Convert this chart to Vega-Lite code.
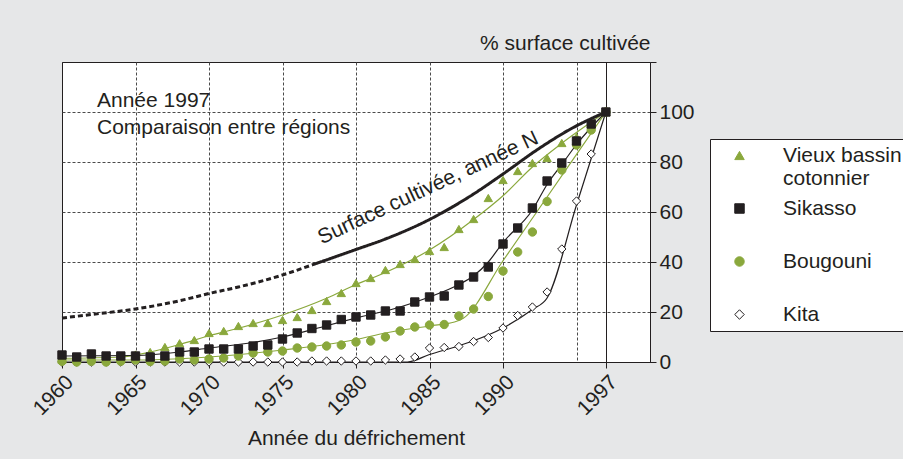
{
  "$schema": "https://vega.github.io/schema/vega-lite/v6.json",
  "width": 588,
  "height": 300,
  "autosize": {"type": "none"},
  "padding": {"left": 62, "top": 62, "right": 253, "bottom": 97},
  "background": "#e6e7e8",
  "config": {
    "font": "Liberation Sans",
    "view": {"fill": "white", "stroke": "#231f20", "strokeWidth": 1}
  },
  "title": {
    "text": ["Année 1997", "Comparaison entre régions"],
    "orient": "top",
    "anchor": "start",
    "frame": "group",
    "dx": 35,
    "offset": -106,
    "fontSize": 21,
    "fontWeight": "normal",
    "color": "#231f20",
    "lineHeight": 27
  },
  "datasets": {
    "points": [
      {"serie": "Kita", "annee": 1960, "pct": 0}, {"serie": "Kita", "annee": 1961, "pct": 0}, {"serie": "Kita", "annee": 1962, "pct": 0}, {"serie": "Kita", "annee": 1963, "pct": 0}, {"serie": "Kita", "annee": 1964, "pct": 0}, {"serie": "Kita", "annee": 1965, "pct": 0}, {"serie": "Kita", "annee": 1966, "pct": 0}, {"serie": "Kita", "annee": 1967, "pct": 0}, {"serie": "Kita", "annee": 1968, "pct": 0}, {"serie": "Kita", "annee": 1969, "pct": 0}, {"serie": "Kita", "annee": 1970, "pct": 0}, {"serie": "Kita", "annee": 1971, "pct": 0}, {"serie": "Kita", "annee": 1972, "pct": 0}, {"serie": "Kita", "annee": 1973, "pct": 0}, {"serie": "Kita", "annee": 1974, "pct": 0}, {"serie": "Kita", "annee": 1975, "pct": 0}, {"serie": "Kita", "annee": 1976, "pct": 0}, {"serie": "Kita", "annee": 1977, "pct": 0.4}, {"serie": "Kita", "annee": 1978, "pct": 0.4}, {"serie": "Kita", "annee": 1979, "pct": 0.4}, {"serie": "Kita", "annee": 1980, "pct": 0.4}, {"serie": "Kita", "annee": 1981, "pct": 0.4}, {"serie": "Kita", "annee": 1982, "pct": 0.8}, {"serie": "Kita", "annee": 1983, "pct": 1.2}, {"serie": "Kita", "annee": 1984, "pct": 2}, {"serie": "Kita", "annee": 1985, "pct": 5.6}, {"serie": "Kita", "annee": 1986, "pct": 5.8}, {"serie": "Kita", "annee": 1987, "pct": 6.2}, {"serie": "Kita", "annee": 1988, "pct": 8.2}, {"serie": "Kita", "annee": 1989, "pct": 9.8}, {"serie": "Kita", "annee": 1990, "pct": 13.6}, {"serie": "Kita", "annee": 1991, "pct": 18.6}, {"serie": "Kita", "annee": 1992, "pct": 22}, {"serie": "Kita", "annee": 1993, "pct": 28}, {"serie": "Kita", "annee": 1994, "pct": 45.2}, {"serie": "Kita", "annee": 1995, "pct": 64.4}, {"serie": "Kita", "annee": 1996, "pct": 83.2}, {"serie": "Kita", "annee": 1997, "pct": 100},
      {"serie": "Bougouni", "annee": 1960, "pct": 0.3}, {"serie": "Bougouni", "annee": 1961, "pct": 0}, {"serie": "Bougouni", "annee": 1962, "pct": 0.3}, {"serie": "Bougouni", "annee": 1963, "pct": 0}, {"serie": "Bougouni", "annee": 1964, "pct": 0.3}, {"serie": "Bougouni", "annee": 1965, "pct": 0.8}, {"serie": "Bougouni", "annee": 1966, "pct": 0.2}, {"serie": "Bougouni", "annee": 1967, "pct": 0.4}, {"serie": "Bougouni", "annee": 1968, "pct": 1.2}, {"serie": "Bougouni", "annee": 1969, "pct": 0.8}, {"serie": "Bougouni", "annee": 1970, "pct": 1.2}, {"serie": "Bougouni", "annee": 1971, "pct": 1.6}, {"serie": "Bougouni", "annee": 1972, "pct": 2.4}, {"serie": "Bougouni", "annee": 1973, "pct": 3.6}, {"serie": "Bougouni", "annee": 1974, "pct": 4}, {"serie": "Bougouni", "annee": 1975, "pct": 4.4}, {"serie": "Bougouni", "annee": 1976, "pct": 5.6}, {"serie": "Bougouni", "annee": 1977, "pct": 6}, {"serie": "Bougouni", "annee": 1978, "pct": 6.4}, {"serie": "Bougouni", "annee": 1979, "pct": 6.8}, {"serie": "Bougouni", "annee": 1980, "pct": 8}, {"serie": "Bougouni", "annee": 1981, "pct": 8.4}, {"serie": "Bougouni", "annee": 1982, "pct": 10}, {"serie": "Bougouni", "annee": 1983, "pct": 12.4}, {"serie": "Bougouni", "annee": 1984, "pct": 14}, {"serie": "Bougouni", "annee": 1985, "pct": 14.8}, {"serie": "Bougouni", "annee": 1986, "pct": 15}, {"serie": "Bougouni", "annee": 1987, "pct": 18.4}, {"serie": "Bougouni", "annee": 1988, "pct": 21.2}, {"serie": "Bougouni", "annee": 1989, "pct": 26.2}, {"serie": "Bougouni", "annee": 1990, "pct": 36.4}, {"serie": "Bougouni", "annee": 1991, "pct": 44}, {"serie": "Bougouni", "annee": 1992, "pct": 52}, {"serie": "Bougouni", "annee": 1993, "pct": 64.2}, {"serie": "Bougouni", "annee": 1994, "pct": 76.8}, {"serie": "Bougouni", "annee": 1995, "pct": 86.8}, {"serie": "Bougouni", "annee": 1996, "pct": 92.8}, {"serie": "Bougouni", "annee": 1997, "pct": 100},
      {"serie": "Vieux bassin cotonnier", "annee": 1960, "pct": 1}, {"serie": "Vieux bassin cotonnier", "annee": 1961, "pct": 1.5}, {"serie": "Vieux bassin cotonnier", "annee": 1962, "pct": 2}, {"serie": "Vieux bassin cotonnier", "annee": 1963, "pct": 1.5}, {"serie": "Vieux bassin cotonnier", "annee": 1964, "pct": 1.5}, {"serie": "Vieux bassin cotonnier", "annee": 1965, "pct": 3}, {"serie": "Vieux bassin cotonnier", "annee": 1966, "pct": 4}, {"serie": "Vieux bassin cotonnier", "annee": 1967, "pct": 6}, {"serie": "Vieux bassin cotonnier", "annee": 1968, "pct": 7.5}, {"serie": "Vieux bassin cotonnier", "annee": 1969, "pct": 8.8}, {"serie": "Vieux bassin cotonnier", "annee": 1970, "pct": 11.6}, {"serie": "Vieux bassin cotonnier", "annee": 1971, "pct": 12.4}, {"serie": "Vieux bassin cotonnier", "annee": 1972, "pct": 14.4}, {"serie": "Vieux bassin cotonnier", "annee": 1973, "pct": 15.6}, {"serie": "Vieux bassin cotonnier", "annee": 1974, "pct": 15.6}, {"serie": "Vieux bassin cotonnier", "annee": 1975, "pct": 16.8}, {"serie": "Vieux bassin cotonnier", "annee": 1976, "pct": 18}, {"serie": "Vieux bassin cotonnier", "annee": 1977, "pct": 20.8}, {"serie": "Vieux bassin cotonnier", "annee": 1978, "pct": 24.4}, {"serie": "Vieux bassin cotonnier", "annee": 1979, "pct": 27.6}, {"serie": "Vieux bassin cotonnier", "annee": 1980, "pct": 31.6}, {"serie": "Vieux bassin cotonnier", "annee": 1981, "pct": 33.6}, {"serie": "Vieux bassin cotonnier", "annee": 1982, "pct": 36.8}, {"serie": "Vieux bassin cotonnier", "annee": 1983, "pct": 39.2}, {"serie": "Vieux bassin cotonnier", "annee": 1984, "pct": 41.2}, {"serie": "Vieux bassin cotonnier", "annee": 1985, "pct": 44.4}, {"serie": "Vieux bassin cotonnier", "annee": 1986, "pct": 46}, {"serie": "Vieux bassin cotonnier", "annee": 1987, "pct": 53.2}, {"serie": "Vieux bassin cotonnier", "annee": 1988, "pct": 57.2}, {"serie": "Vieux bassin cotonnier", "annee": 1989, "pct": 65.6}, {"serie": "Vieux bassin cotonnier", "annee": 1990, "pct": 72.8}, {"serie": "Vieux bassin cotonnier", "annee": 1991, "pct": 76.4}, {"serie": "Vieux bassin cotonnier", "annee": 1992, "pct": 79.6}, {"serie": "Vieux bassin cotonnier", "annee": 1993, "pct": 81.6}, {"serie": "Vieux bassin cotonnier", "annee": 1994, "pct": 87.6}, {"serie": "Vieux bassin cotonnier", "annee": 1995, "pct": 90}, {"serie": "Vieux bassin cotonnier", "annee": 1996, "pct": 95}, {"serie": "Vieux bassin cotonnier", "annee": 1997, "pct": 100},
      {"serie": "Sikasso", "annee": 1960, "pct": 2.8}, {"serie": "Sikasso", "annee": 1961, "pct": 2}, {"serie": "Sikasso", "annee": 1962, "pct": 3.2}, {"serie": "Sikasso", "annee": 1963, "pct": 2.4}, {"serie": "Sikasso", "annee": 1964, "pct": 2.4}, {"serie": "Sikasso", "annee": 1965, "pct": 2.4}, {"serie": "Sikasso", "annee": 1966, "pct": 2}, {"serie": "Sikasso", "annee": 1967, "pct": 2.4}, {"serie": "Sikasso", "annee": 1968, "pct": 4}, {"serie": "Sikasso", "annee": 1969, "pct": 4}, {"serie": "Sikasso", "annee": 1970, "pct": 5.2}, {"serie": "Sikasso", "annee": 1971, "pct": 5.2}, {"serie": "Sikasso", "annee": 1972, "pct": 5.2}, {"serie": "Sikasso", "annee": 1973, "pct": 6.4}, {"serie": "Sikasso", "annee": 1974, "pct": 6.8}, {"serie": "Sikasso", "annee": 1975, "pct": 9.2}, {"serie": "Sikasso", "annee": 1976, "pct": 11.6}, {"serie": "Sikasso", "annee": 1977, "pct": 13.4}, {"serie": "Sikasso", "annee": 1978, "pct": 14.8}, {"serie": "Sikasso", "annee": 1979, "pct": 17}, {"serie": "Sikasso", "annee": 1980, "pct": 18}, {"serie": "Sikasso", "annee": 1981, "pct": 18.8}, {"serie": "Sikasso", "annee": 1982, "pct": 20.4}, {"serie": "Sikasso", "annee": 1983, "pct": 20.4}, {"serie": "Sikasso", "annee": 1984, "pct": 24}, {"serie": "Sikasso", "annee": 1985, "pct": 26}, {"serie": "Sikasso", "annee": 1986, "pct": 26.4}, {"serie": "Sikasso", "annee": 1987, "pct": 30.8}, {"serie": "Sikasso", "annee": 1988, "pct": 34}, {"serie": "Sikasso", "annee": 1989, "pct": 38}, {"serie": "Sikasso", "annee": 1990, "pct": 47.2}, {"serie": "Sikasso", "annee": 1991, "pct": 53.6}, {"serie": "Sikasso", "annee": 1992, "pct": 61.6}, {"serie": "Sikasso", "annee": 1993, "pct": 72.4}, {"serie": "Sikasso", "annee": 1994, "pct": 79.6}, {"serie": "Sikasso", "annee": 1995, "pct": 88.4}, {"serie": "Sikasso", "annee": 1996, "pct": 95.2}, {"serie": "Sikasso", "annee": 1997, "pct": 100}
    ],
    "tendances": [
      {"serie": "Vieux bassin cotonnier", "annee": 1960, "pct": 1.5}, {"serie": "Vieux bassin cotonnier", "annee": 1964, "pct": 2}, {"serie": "Vieux bassin cotonnier", "annee": 1966, "pct": 4}, {"serie": "Vieux bassin cotonnier", "annee": 1968, "pct": 7}, {"serie": "Vieux bassin cotonnier", "annee": 1970, "pct": 10.5}, {"serie": "Vieux bassin cotonnier", "annee": 1972, "pct": 13.5}, {"serie": "Vieux bassin cotonnier", "annee": 1975, "pct": 18.8}, {"serie": "Vieux bassin cotonnier", "annee": 1978, "pct": 25.5}, {"serie": "Vieux bassin cotonnier", "annee": 1980, "pct": 31}, {"serie": "Vieux bassin cotonnier", "annee": 1982, "pct": 35.8}, {"serie": "Vieux bassin cotonnier", "annee": 1985, "pct": 44.8}, {"serie": "Vieux bassin cotonnier", "annee": 1988, "pct": 57}, {"serie": "Vieux bassin cotonnier", "annee": 1990, "pct": 66.5}, {"serie": "Vieux bassin cotonnier", "annee": 1992, "pct": 78}, {"serie": "Vieux bassin cotonnier", "annee": 1994, "pct": 87.5}, {"serie": "Vieux bassin cotonnier", "annee": 1997, "pct": 100},
      {"serie": "Sikasso", "annee": 1960, "pct": 2.4}, {"serie": "Sikasso", "annee": 1965, "pct": 2.6}, {"serie": "Sikasso", "annee": 1968, "pct": 4}, {"serie": "Sikasso", "annee": 1970, "pct": 5.6}, {"serie": "Sikasso", "annee": 1973, "pct": 7.8}, {"serie": "Sikasso", "annee": 1975, "pct": 10}, {"serie": "Sikasso", "annee": 1978, "pct": 14.5}, {"serie": "Sikasso", "annee": 1980, "pct": 17.6}, {"serie": "Sikasso", "annee": 1983, "pct": 22}, {"serie": "Sikasso", "annee": 1985, "pct": 26}, {"serie": "Sikasso", "annee": 1987, "pct": 31}, {"serie": "Sikasso", "annee": 1988, "pct": 34.5}, {"serie": "Sikasso", "annee": 1989, "pct": 40}, {"serie": "Sikasso", "annee": 1990, "pct": 47.8}, {"serie": "Sikasso", "annee": 1992, "pct": 60.8}, {"serie": "Sikasso", "annee": 1993, "pct": 71}, {"serie": "Sikasso", "annee": 1994, "pct": 79}, {"serie": "Sikasso", "annee": 1995, "pct": 87}, {"serie": "Sikasso", "annee": 1997, "pct": 100},
      {"serie": "Bougouni", "annee": 1960, "pct": 0.8}, {"serie": "Bougouni", "annee": 1965, "pct": 0.8}, {"serie": "Bougouni", "annee": 1968, "pct": 1.3}, {"serie": "Bougouni", "annee": 1970, "pct": 2}, {"serie": "Bougouni", "annee": 1973, "pct": 3.5}, {"serie": "Bougouni", "annee": 1975, "pct": 4.8}, {"serie": "Bougouni", "annee": 1978, "pct": 7}, {"serie": "Bougouni", "annee": 1980, "pct": 9}, {"serie": "Bougouni", "annee": 1982, "pct": 11.6}, {"serie": "Bougouni", "annee": 1985, "pct": 14.4}, {"serie": "Bougouni", "annee": 1986.7, "pct": 16}, {"serie": "Bougouni", "annee": 1987.3, "pct": 17.5}, {"serie": "Bougouni", "annee": 1990, "pct": 40.5}, {"serie": "Bougouni", "annee": 1993, "pct": 66}, {"serie": "Bougouni", "annee": 1997, "pct": 100},
      {"serie": "Kita", "annee": 1960, "pct": 0}, {"serie": "Kita", "annee": 1983.5, "pct": 0}, {"serie": "Kita", "annee": 1985, "pct": 3}, {"serie": "Kita", "annee": 1987, "pct": 6.5}, {"serie": "Kita", "annee": 1988, "pct": 8.5}, {"serie": "Kita", "annee": 1990, "pct": 13.6}, {"serie": "Kita", "annee": 1992, "pct": 21}, {"serie": "Kita", "annee": 1993, "pct": 25.6}, {"serie": "Kita", "annee": 1995, "pct": 62.8}, {"serie": "Kita", "annee": 1997, "pct": 100}
    ],
    "surface": [
      {"annee": 1960, "pct": 17.6, "trait": "pointillé"}, {"annee": 1962, "pct": 19, "trait": "pointillé"}, {"annee": 1965, "pct": 21.2, "trait": "pointillé"}, {"annee": 1968, "pct": 24.5, "trait": "pointillé"}, {"annee": 1970, "pct": 27.4, "trait": "pointillé"}, {"annee": 1972, "pct": 30, "trait": "pointillé"}, {"annee": 1975, "pct": 34.8, "trait": "pointillé"}, {"annee": 1977, "pct": 38.8, "trait": "pointillé"},
      {"annee": 1977, "pct": 38.8, "trait": "continu"}, {"annee": 1980, "pct": 45, "trait": "continu"}, {"annee": 1982, "pct": 49.2, "trait": "continu"}, {"annee": 1985, "pct": 57, "trait": "continu"}, {"annee": 1988, "pct": 67.2, "trait": "continu"}, {"annee": 1990, "pct": 75.2, "trait": "continu"}, {"annee": 1992.3, "pct": 84.8, "trait": "continu"}, {"annee": 1994.6, "pct": 93.2, "trait": "continu"}, {"annee": 1997, "pct": 100, "trait": "continu"}
    ]
  },
  "encoding": {
    "x": {
      "field": "annee",
      "type": "quantitative",
      "scale": {"domain": [1960, 2000], "nice": false, "zero": false},
      "axis": {
        "title": "Année du défrichement",
        "values": [1960, 1965, 1970, 1975, 1980, 1985, 1990, 1995, 1997],
        "format": "d",
        "labelExpr": "datum.value == 1995 ? '' : datum.label",
        "labelAngle": -45,
        "labelFontSize": 21,
        "labelColor": "#231f20",
        "labelPadding": 3,
        "labelFlush": false,
        "labelOverlap": false,
        "tickSize": 6,
        "tickColor": "#231f20",
        "tickOpacity": {"condition": {"test": "datum.value == 1995", "value": 0}, "value": 1},
        "domainColor": "#231f20",
        "grid": true,
        "gridColor": {"condition": {"test": "datum.value == 1997 || datum.value == 1960", "value": "#231f20"}, "value": "#4a4a4a"},
        "gridDash": {"condition": {"test": "datum.value == 1997 || datum.value == 1960", "value": []}, "value": [3, 2]},
        "titleFontSize": 21,
        "titleFontWeight": "normal",
        "titleColor": "#231f20",
        "titlePadding": 9
      }
    },
    "y": {
      "field": "pct",
      "type": "quantitative",
      "scale": {"domain": [0, 120], "nice": false},
      "axis": {
        "orient": "right",
        "title": "% surface cultivée",
        "values": [0, 20, 40, 60, 80, 100, 120],
        "labelExpr": "datum.value == 120 ? '' : datum.label",
        "labelFontSize": 21,
        "labelColor": "#231f20",
        "labelPadding": 3,
        "labelFlush": false,
        "tickSize": 6,
        "tickColor": "#231f20",
        "domainColor": "#231f20",
        "grid": true,
        "gridColor": "#4a4a4a",
        "gridDash": [3, 2],
        "gridOpacity": {"condition": {"test": "datum.value == 0 || datum.value == 120", "value": 0}, "value": 1},
        "titleAngle": 0,
        "titleAlign": "right",
        "titleBaseline": "middle",
        "titleX": 0,
        "titleY": -19,
        "titleFontSize": 21,
        "titleFontWeight": "normal",
        "titleColor": "#231f20"
      }
    }
  },
  "layer": [
    {
      "data": {"name": "tendances"},
      "mark": {"type": "line", "interpolate": "monotone", "strokeWidth": 1.2},
      "encoding": {
        "stroke": {
          "field": "serie",
          "type": "nominal",
          "scale": {"domain": ["Vieux bassin cotonnier", "Sikasso", "Bougouni", "Kita"], "range": ["#8aa83c", "#231f20", "#8aa83c", "#231f20"]}
        }
      }
    },
    {
      "data": {"name": "surface"},
      "mark": {"type": "line", "interpolate": "monotone", "strokeWidth": 3, "color": "#231f20"},
      "encoding": {
        "strokeDash": {
          "field": "trait",
          "type": "nominal",
          "scale": {"domain": ["pointillé", "continu"], "range": [[5, 3], [1, 0]]},
          "legend": null
        }
      }
    },
    {
      "data": {"name": "surface"},
      "transform": [{"filter": "datum.annee == 1985"}],
      "mark": {"type": "text", "angle": -25, "fontSize": 21, "color": "#231f20", "align": "center", "baseline": "middle", "dx": 12, "dy": -29},
      "encoding": {"text": {"value": "Surface cultivée, année N"}}
    },
    {
      "data": {"name": "points"},
      "mark": {"type": "point", "filled": true, "opacity": 1, "strokeWidth": 1, "size": 70},
      "encoding": {
        "shape": {
          "field": "serie",
          "type": "nominal",
          "scale": {"domain": ["Vieux bassin cotonnier", "Sikasso", "Bougouni", "Kita"], "range": ["triangle-up", "square", "circle", "diamond"]},
          "legend": {
            "title": null,
            "orient": "none",
            "legendX": 648,
            "legendY": 77,
            "padding": 6,
            "rowPadding": 8,
            "gridAlign": "all",
            "fillColor": "white",
            "strokeColor": "#231f20",
            "cornerRadius": 0,
            "labelFontSize": 21,
            "labelColor": "#231f20",
            "labelOffset": 33,
            "labelLimit": 300,
            "labelExpr": "datum.value == 'Vieux bassin cotonnier' ? ['Vieux bassin', 'cotonnier'] : datum.label",
            "symbolSize": 90,
            "symbolOffset": 13,
            "symbolStrokeWidth": 1
          }
        },
        "fill": {
          "field": "serie",
          "type": "nominal",
          "scale": {"domain": ["Vieux bassin cotonnier", "Sikasso", "Bougouni", "Kita"], "range": ["#8aa83c", "#231f20", "#8aa83c", "#ffffff"]}
        },
        "stroke": {
          "field": "serie",
          "type": "nominal"
        }
      }
    }
  ]
}
